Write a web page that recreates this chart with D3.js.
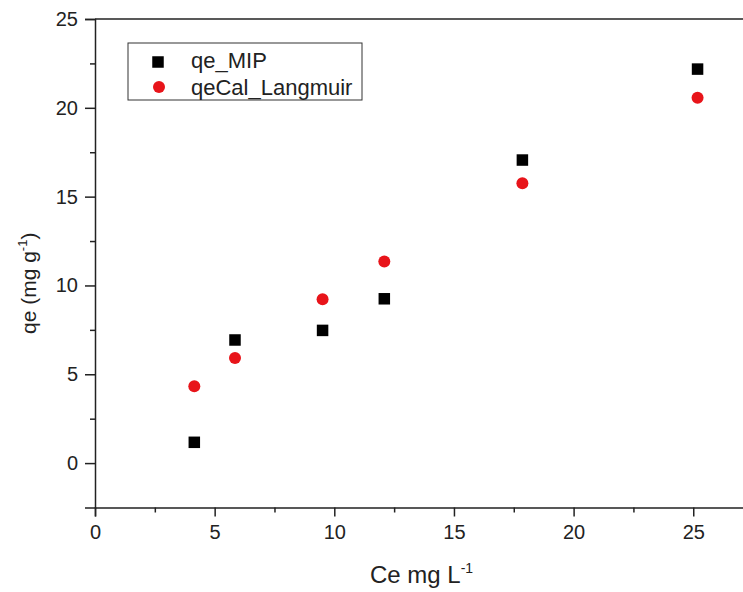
<!DOCTYPE html>
<html><head><meta charset="utf-8">
<script src="https://cdn.jsdelivr.net/npm/d3@7"></script>
<style>body{margin:0;background:#fff}svg{display:block}text{font-family:Arial,"Liberation Sans",sans-serif;fill:#222}</style>
</head><body><svg id="c" width="743" height="592"></svg>
<script>
const ceValues = [4.15, 5.85, 9.51, 12.09, 17.86, 25.18];
const qeMIP = [1.17, 6.93, 7.47, 9.25, 17.06, 22.18];
const qeCalLangmuir = [4.32, 5.91, 9.23, 11.35, 15.75, 20.57];
const xTicks = [0, 5, 10, 15, 20, 25];
const yTicks = [0, 5, 10, 15, 20, 25];
const seriesNames = ["qe_MIP", "qeCal_Langmuir"];

const svg = d3.select("#c");
const L = 95, T = 19, B = 507.5;
const x = d3.scaleLinear().domain([0, 27.3]).range([L, L + 27.3 * 23.93]);
const y = d3.scaleLinear().domain([-2.5, 25]).range([B, T]);
const stroke = "#222";

// frame (top and right)
svg.append("line").attr("x1", L).attr("x2", x(27.3)).attr("y1", T).attr("y2", T).attr("stroke", stroke).attr("stroke-width", 1.5);
svg.append("line").attr("x1", x(27.3)).attr("x2", x(27.3)).attr("y1", T).attr("y2", B).attr("stroke", stroke).attr("stroke-width", 1.5);

// x axis
svg.append("g").attr("transform", `translate(0,${B})`)
  .call(d3.axisBottom(x).tickValues(xTicks).tickSize(9).tickPadding(8).tickFormat(d3.format("d")));
svg.append("g").attr("transform", `translate(0,${B})`)
  .call(d3.axisBottom(x).tickValues([2.5,7.5,12.5,17.5,22.5]).tickSize(5).tickFormat(""))
  .call(g => g.select(".domain").remove());
// y axis
svg.append("g").attr("transform", `translate(${L},0)`)
  .call(d3.axisLeft(y).tickValues(yTicks).tickSize(10).tickPadding(7).tickFormat(d3.format("d")));
svg.append("g").attr("transform", `translate(${L},0)`)
  .call(d3.axisLeft(y).tickValues([22.5,17.5,12.5,7.5,2.5]).tickSize(5).tickFormat(""))
  .call(g => g.select(".domain").remove());
svg.selectAll(".domain").attr("stroke", stroke).attr("stroke-width", 1.5);
svg.selectAll(".tick line").attr("stroke", stroke).attr("stroke-width", 1.5);
svg.selectAll(".tick text").attr("font-size", 20).style("fill", "#222")
  .attr("font-family", "Arial, 'Liberation Sans', sans-serif");

// axis titles
const xl = svg.append("text").attr("x", 370).attr("y", 583).attr("text-anchor", "start").attr("font-size", 24);
xl.append("tspan").text("Ce mg L");
xl.append("tspan").attr("font-size", 14).attr("dy", -10).text("-1");
const yl = svg.append("text").attr("transform", "translate(36,334) rotate(-90)").attr("text-anchor", "start").attr("font-size", 21);
yl.append("tspan").text("qe (mg g");
yl.append("tspan").attr("font-size", 13).attr("dy", -9).text("-1");
yl.append("tspan").attr("dy", 9).text(")");

// data
const sq = 11.5;
svg.append("g").selectAll("rect").data(ceValues).join("rect")
  .attr("x", (d) => x(d) - sq/2).attr("y", (d, i) => y(qeMIP[i]) - sq/2)
  .attr("width", sq).attr("height", sq).attr("fill", "#000");
svg.append("g").selectAll("circle").data(ceValues).join("circle")
  .attr("cx", (d) => x(d)).attr("cy", (d, i) => y(qeCalLangmuir[i]))
  .attr("r", 6).attr("fill", "#e8141a");

// legend
const lg = svg.append("g");
lg.append("rect").attr("x", 128).attr("y", 43).attr("width", 234).attr("height", 57)
  .attr("fill", "#fff").attr("stroke", "#333").attr("stroke-width", 1);
lg.append("rect").attr("x", 158 - sq/2).attr("y", 62 - sq/2).attr("width", sq).attr("height", sq).attr("fill", "#000");
lg.append("circle").attr("cx", 159).attr("cy", 87).attr("r", 6).attr("fill", "#e8141a");
lg.append("text").attr("x", 191).attr("y", 68).attr("font-size", 22).text(seriesNames[0]);
lg.append("text").attr("x", 191).attr("y", 95).attr("font-size", 22).text(seriesNames[1]);
</script></body></html>
